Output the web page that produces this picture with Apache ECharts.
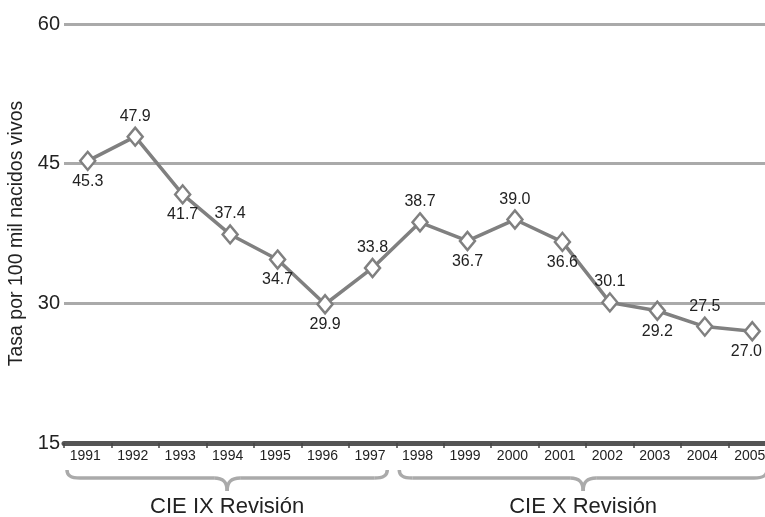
<!doctype html>
<html lang="es">
<head>
  <meta charset="UTF-8">
  <title>Tasa por 100 mil nacidos vivos</title>
  <script src="https://cdn.jsdelivr.net/npm/echarts@6/dist/echarts.min.js"></script>
  <style>
    html, body { margin: 0; padding: 0; background: #fff; }
    #main { width: 765px; height: 517px; }
  </style>
</head>
<body>
<div id="main"></div>
<script>
  // datos
  var years = ['1991', '1992', '1993', '1994', '1995', '1996', '1997', '1998',
               '1999', '2000', '2001', '2002', '2003', '2004', '2005'];
  var rates = [45.3, 47.9, 41.7, 37.4, 34.7, 29.9, 33.8, 38.7, 36.7, 39.0, 36.6, 30.1, 29.2, 27.5, 27.0];
  var yTicks = [15, 30, 45, 60];
  // revisiones CIE
  var groupNames = ['CIE IX Revisión', 'CIE X Revisión'];
  var groupFrom = ['1991', '1998'];
  var groupTo = ['1997', '2005'];
  // etiqueta arriba / abajo del punto
  var labelSide = ['bottom', 'top', 'bottom', 'top', 'bottom', 'bottom', 'top', 'top',
                   'bottom', 'top', 'bottom', 'top', 'bottom', 'top', 'bottom'];

  var font = '"Liberation Sans", Arial, sans-serif';
  var W = 765;
  var chart = echarts.init(document.getElementById('main'));

  var option = {
    animation: false,
    grid: { left: 64, right: -11, top: 24, bottom: 74, containLabel: false, outerBoundsMode: 'none' },
    xAxis: {
      type: 'category',
      data: years,
      boundaryGap: true,
      axisLine: { lineStyle: { color: '#555', width: 5 } },
      axisTick: { show: true, length: 5, lineStyle: { color: '#444', width: 1.5 } },
      axisLabel: { color: '#222', fontSize: 14, fontFamily: font, margin: 6, padding: [0, 5, 0, 0] },
      splitLine: { show: false }
    },
    yAxis: {
      type: 'value',
      min: yTicks[0],
      max: yTicks[yTicks.length - 1],
      interval: yTicks[1] - yTicks[0],
      name: 'Tasa por 100 mil nacidos vivos',
      nameLocation: 'middle',
      nameGap: 37,
      nameTextStyle: { color: '#222', fontSize: 19.5, fontFamily: font },
      axisLine: { show: false },
      axisTick: { show: false },
      axisLabel: { color: '#222', fontSize: 20, fontFamily: font, margin: 4 },
      splitLine: { lineStyle: { color: '#aaa', width: 3 } }
    },
    series: [{
      type: 'line',
      data: rates.map(function (v, i) {
        return { value: v, label: { position: labelSide[i] } };
      }),
      lineStyle: { color: '#808080', width: 3.5 },
      symbol: 'diamond',
      symbolSize: [15, 18],
      itemStyle: { color: '#fff', borderColor: '#808080', borderWidth: 2.5 },
      label: {
        show: true,
        distance: 2,
        color: '#222',
        fontSize: 16,
        fontFamily: font,
        formatter: function (p) { return p.value.toFixed(1); }
      },
      // que la ultima etiqueta no se corte en el borde
      labelLayout: function (p) {
        var r = p.labelRect;
        if (r.x + r.width > W - 3) {
          return { x: W - 3 - r.width, y: r.y, align: 'left', verticalAlign: 'top' };
        }
        return {};
      },
      z: 5
    }]
  };
  chart.setOption(option);

  // llaves bajo las categorias
  function drawBraces() {
    var step = chart.convertToPixel({ xAxisIndex: 0 }, years[1]) - chart.convertToPixel({ xAxisIndex: 0 }, years[0]);
    var y0 = 470;
    var els = [];
    var stroke = { stroke: '#aaa', lineWidth: 3.5, fill: null };
    for (var i = 0; i < groupNames.length; i++) {
      var xa = chart.convertToPixel({ xAxisIndex: 0 }, groupFrom[i]) - step / 2 + 3;
      var xb = chart.convertToPixel({ xAxisIndex: 0 }, groupTo[i]) + step / 2 - 9;
      var xm = (xa + xb) / 2;
      var h = 8, r = 13, tip = 21;
      els.push(
        { type: 'bezierCurve', shape: { x1: xa, y1: y0, cpx1: xa, cpy1: y0 + 6, cpx2: xa + 4, cpy2: y0 + h, x2: xa + r, y2: y0 + h }, style: stroke },
        { type: 'line', shape: { x1: xa + r, y1: y0 + h, x2: xm - r, y2: y0 + h }, style: stroke },
        { type: 'bezierCurve', shape: { x1: xm - r, y1: y0 + h, cpx1: xm - 4, cpy1: y0 + h, cpx2: xm, cpy2: y0 + h + 4, x2: xm, y2: y0 + tip }, style: stroke },
        { type: 'bezierCurve', shape: { x1: xm, y1: y0 + tip, cpx1: xm, cpy1: y0 + h + 4, cpx2: xm + 4, cpy2: y0 + h, x2: xm + r, y2: y0 + h }, style: stroke },
        { type: 'line', shape: { x1: xm + r, y1: y0 + h, x2: xb - r, y2: y0 + h }, style: stroke },
        { type: 'bezierCurve', shape: { x1: xb - r, y1: y0 + h, cpx1: xb - 4, cpy1: y0 + h, cpx2: xb, cpy2: y0 + 6, x2: xb, y2: y0 }, style: stroke },
        { type: 'text', x: xm, y: 507, style: { text: groupNames[i], fill: '#222', font: '22px ' + font, textAlign: 'center', textVerticalAlign: 'middle' } }
      );
    }
    chart.setOption({ graphic: els });
  }
  drawBraces();
</script>
</body>
</html>
